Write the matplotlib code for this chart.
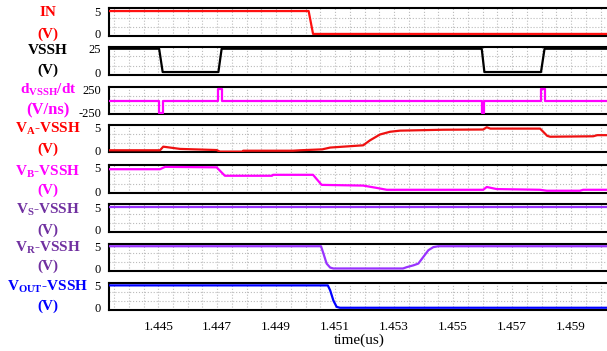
import numpy as np
import matplotlib
matplotlib.use('Agg')
import matplotlib.pyplot as plt
from matplotlib.ticker import MultipleLocator

plt.rcParams['font.family'] = ['Liberation Serif', 'DejaVu Serif']
plt.rcParams['axes.unicode_minus'] = False
plt.rcParams['mathtext.fontset'] = 'custom'
plt.rcParams['mathtext.rm'] = 'Liberation Serif:bold'
plt.rcParams['mathtext.bf'] = 'Liberation Serif:bold'
plt.rcParams['mathtext.it'] = 'Liberation Serif:bold'

# 波形数据 (时间单位 us)
t_in = [1.4433, 1.45010, 1.45025, 1.4604]
v_in = [5, 5, 0, 0]

t_vssh = [1.4433, 1.44503, 1.44515, 1.44704, 1.44715, 1.45597, 1.45606, 1.45798, 1.45810, 1.4604]
v_vssh = [25, 25, 0, 0, 25, 25, 0, 0, 25, 25]

t_dv = [1.4433, 1.44503, 1.44503, 1.44515, 1.44515, 1.44704, 1.44704, 1.44715, 1.44715,
        1.45597, 1.45597, 1.45606, 1.45606, 1.45798, 1.45798, 1.45810, 1.45810, 1.4604]
v_dv = [0, 0, -250, -250, 0, 0, 250, 250, 0,
        0, -250, -250, 0, 0, 250, 250, 0, 0]

t_va = [1.4433, 1.44506, 1.44517, 1.44540, 1.44574, 1.44698, 1.44709, 1.44787, 1.44788,
        1.44957, 1.44981, 1.45056, 1.45083, 1.45195, 1.45218, 1.45252, 1.45286, 1.45320,
        1.45466, 1.45602, 1.45614, 1.45626, 1.45795, 1.45819, 1.45829, 1.45975, 1.45989, 1.4604]
v_va = [0.0, 0.0, 0.8, 0.6, 0.3, 0.05, -0.3, -0.3, -0.1,
        -0.1, 0.0, 0.2, 0.6, 1.1, 2.2, 3.5, 4.1, 4.35,
        4.55, 4.6, 5.1, 4.8, 4.8, 3.2, 3.0, 3.1, 3.35, 3.35]

t_vb = [1.4433, 1.44506, 1.44523, 1.44698, 1.44726, 1.44886, 1.44889, 1.45025, 1.45054,
        1.45195, 1.45241, 1.45275, 1.45602, 1.45614, 1.45648, 1.45795, 1.45818, 1.45930,
        1.45941, 1.4604]
v_vb = [4.7, 4.7, 5.2, 5.1, 3.3, 3.3, 3.5, 3.5, 1.35,
        1.2, 0.7, 0.3, 0.3, 0.9, 0.45, 0.3, 0.1, 0.1,
        0.3, 0.3]

t_vs = [1.4433, 1.4604]
v_vs = [5, 5]

t_vr = [1.4433, 1.45052, 1.45060, 1.45071, 1.45083, 1.45094, 1.45330, 1.45343, 1.45365,
        1.45382, 1.45399, 1.45416, 1.45433, 1.45450, 1.4604]
v_vr = [5, 5, 3.4, 1.1, 0.2, 0.0, 0.0, 0.3, 0.7,
        1.1, 2.6, 4.1, 4.8, 5.0, 5.0]

t_vout = [1.4433, 1.45075, 1.45083, 1.45094, 1.45105, 1.45116, 1.4604]
v_vout = [5, 5, 3.9, 1.6, 0.2, 0.0, 0.0]

names = ['IN', 'VSSH', r'$\mathbf{d_{VSSH}}$/dt', r'$\mathbf{V_{A}}$-VSSH', r'$\mathbf{V_{B}}$-VSSH',
         r'$\mathbf{V_{S}}$-VSSH', r'$\mathbf{V_{R}}$-VSSH', r'$\mathbf{V_{OUT}}$-VSSH']
units = ['(V)', '(V)', '(V/ns)', '(V)', '(V)', '(V)', '(V)', '(V)']
label_colors = ['#ff0000', 'black', '#ff00ff', '#ff0000', '#ff00ff', '#7030a0', '#7030a0', '#0000ff']
line_colors = ['#ff1010', 'black', '#ff00ff', '#ee1111', '#ff00ff', '#9933ff', '#9933ff', '#0000ff']
ticks = [[0, 5], [0, 25], [-250, 250], [0, 5], [0, 5], [0, 5], [0, 5], [0, 5]]
ylims = [(-0.45, 5.6), (-3.5, 27.2), (-285, 290), (-0.45, 5.6), (-0.45, 5.6), (-0.45, 5.6),
         (-0.5, 5.5), (-0.5, 5.6)]
data = [(t_in, v_in), (t_vssh, v_vssh), (t_dv, v_dv), (t_va, v_va), (t_vb, v_vb),
        (t_vs, v_vs), (t_vr, v_vr), (t_vout, v_vout)]

# 各子图位置 (像素)
W, H = 607, 351
tops = [8.3, 46.7, 87.3, 125, 165, 204.3, 244, 282.7]
bots = [36, 75.3, 114.3, 152.3, 193.3, 232, 270.7, 310]
name_y = [12, 51, 90, 128.5, 171.5, 210, 247.5, 287]
unit_y = [34, 70, 110, 149, 190, 230, 266.5, 306]

fig = plt.figure(figsize=(W / 100, H / 100), dpi=100)
left_px, right_px = 109.3, 610

for i in range(8):
    ax = fig.add_axes([left_px / W, 1 - bots[i] / H, (right_px - left_px) / W, (bots[i] - tops[i]) / H])
    t, v = data[i]
    ax.plot(t, v, color=line_colors[i], lw=1.6, zorder=3)
    ax.set_xlim(1.44334, 1.46032)
    ax.set_ylim(*ylims[i])
    ax.set_yticks(ticks[i])
    y0, y1 = ylims[i]
    ax.set_yticks([y0 + (y1 - y0) / 3, y0 + 2 * (y1 - y0) / 3], minor=True)
    ax.set_xticks(np.arange(1.445, 1.4600, 0.002))
    ax.xaxis.set_minor_locator(MultipleLocator(0.0005))
    ax.grid(which='both', axis='x', color='#bbbbbb', ls=':', lw=0.8)
    ax.grid(which='minor', axis='y', color='#bbbbbb', ls=':', lw=0.8)
    ax.tick_params(which='both', length=0)
    ax.tick_params(axis='y', labelsize=9, pad=6)
    for s in ax.spines.values():
        s.set_linewidth(1.5)
    if i < 7:
        ax.tick_params(axis='x', labelbottom=False)
    else:
        ax.set_xticklabels(['%.3f' % x for x in np.arange(1.445, 1.4600, 0.002)])
        ax.tick_params(axis='x', labelsize=9.5, pad=8)
        ax.set_xlabel('time(us)', fontsize=11, labelpad=0)
    fig.text(48 / W, 1 - name_y[i] / H, names[i], color=label_colors[i], fontsize=11,
             fontweight='bold', ha='center', va='center')
    usize = 12 if units[i] == '(V/ns)' else 11
    fig.text(48 / W, 1 - unit_y[i] / H, units[i], color=label_colors[i], fontsize=usize,
             fontweight='bold', ha='center', va='center')

fig.savefig('out.png', dpi=100)
